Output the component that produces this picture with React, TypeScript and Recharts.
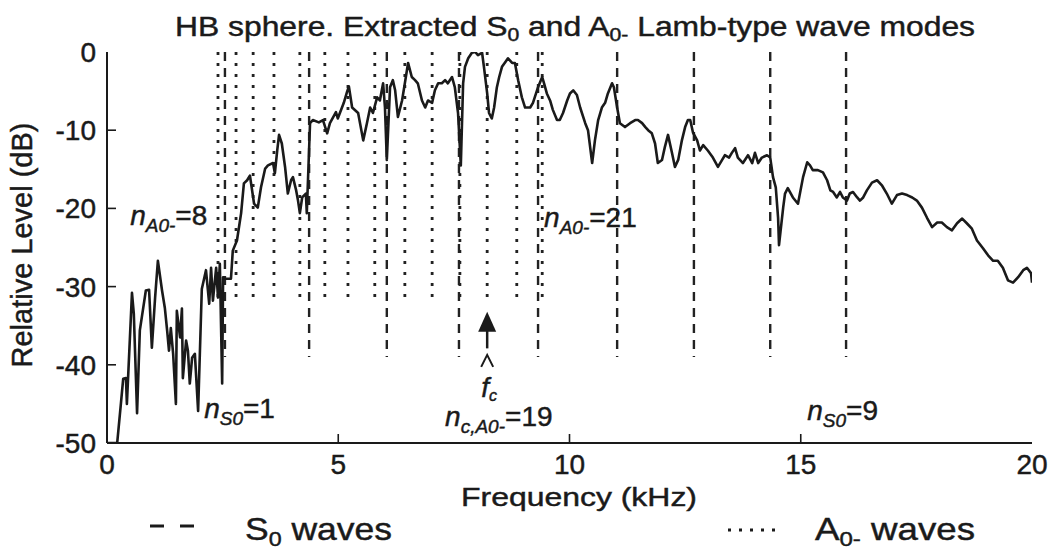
import React from 'react';
import { ComposedChart, Line, XAxis, YAxis, ReferenceLine, ReferenceDot } from 'recharts';

const FONT = "'Liberation Sans', Arial, Helvetica, sans-serif";
const INK = '#1a1a1a';

// Measured spectrum: [frequency kHz, relative level dB]
const spectrum: [number, number][] = [
  [0.0, -50], [0.22, -50], [0.3, -45.0], [0.35, -41.8], [0.41, -41.7], [0.43, -45.0], [0.54, -30.8], [0.58, -33.5],
  [0.65, -46.2], [0.71, -35.6], [0.84, -30.5], [0.91, -30.4], [0.97, -37.8], [1.04, -31.4], [1.1, -26.7], [1.19, -30.5],
  [1.25, -32.7], [1.3, -35.6], [1.34, -38.2], [1.38, -35.3], [1.43, -38.6], [1.49, -45.0], [1.51, -33.1], [1.58, -36.5],
  [1.62, -32.8], [1.64, -41.7], [1.71, -36.9], [1.75, -38.2], [1.79, -42.4], [1.84, -39.1], [1.9, -38.6], [1.97, -45.9],
  [2.05, -30.3], [2.14, -27.9], [2.21, -32.2], [2.25, -27.6], [2.29, -31.8], [2.36, -27.6], [2.4, -31.4], [2.44, -27.1],
  [2.49, -42.4], [2.51, -28.8], [2.57, -29.0], [2.68, -29.0], [2.72, -25.4], [2.81, -24.1], [2.9, -20.6], [2.96, -16.8],
  [3.03, -16.4], [3.09, -15.8], [3.18, -19.4], [3.26, -19.9], [3.33, -17.3], [3.42, -14.9], [3.48, -14.5], [3.59, -14.2],
  [3.63, -15.5], [3.68, -12.6], [3.72, -10.6], [3.78, -11.7], [3.85, -14.7], [3.91, -18.1], [3.98, -16.4], [4.02, -16.0],
  [4.09, -17.7], [4.13, -19.0], [4.17, -20.6], [4.22, -18.6], [4.3, -18.1], [4.32, -20.6], [4.39, -9.1], [4.45, -8.7],
  [4.58, -9.0], [4.67, -8.7], [4.76, -10.4], [4.82, -9.1], [4.95, -7.7], [4.99, -8.5], [5.12, -6.5], [5.19, -5.1],
  [5.23, -4.4], [5.3, -7.1], [5.43, -7.8], [5.54, -11.3], [5.62, -9.1], [5.69, -7.1], [5.75, -7.8], [5.84, -5.8],
  [5.9, -6.2], [5.97, -4.0], [6.01, -7.1], [6.05, -13.8], [6.12, -4.5], [6.18, -3.6], [6.23, -4.9], [6.29, -8.3],
  [6.38, -6.2], [6.44, -4.0], [6.51, -1.4], [6.59, -3.2], [6.66, -3.6], [6.72, -4.0], [6.81, -6.2], [6.88, -7.1],
  [6.94, -6.2], [7.03, -6.5], [7.09, -4.9], [7.16, -4.0], [7.24, -4.0], [7.31, -3.6], [7.37, -4.0], [7.46, -3.2],
  [7.52, -4.5], [7.59, -7.8], [7.65, -14.5], [7.7, -4.0], [7.74, -1.9], [7.81, -0.8], [7.89, -0.1], [7.96, 0],
  [8.02, -0.4], [8.11, -0.1], [8.15, -1.9], [8.22, -5.3], [8.26, -7.8], [8.32, -8.5], [8.37, -7.1], [8.43, -4.5],
  [8.48, -3.2], [8.54, -1.9], [8.61, -1.3], [8.67, -0.8], [8.76, -1.4], [8.82, -1.4], [8.89, -3.6], [8.97, -5.8],
  [9.04, -7.1], [9.15, -7.1], [9.21, -6.5], [9.32, -4.5], [9.41, -3.2], [9.45, -4.0], [9.51, -5.3], [9.58, -6.2],
  [9.64, -7.4], [9.73, -8.7], [9.79, -8.7], [9.86, -7.8], [9.95, -6.2], [10.01, -5.3], [10.08, -4.9], [10.16, -5.5],
  [10.23, -7.1], [10.34, -9.1], [10.4, -10.0], [10.49, -14.2], [10.55, -11.3], [10.62, -8.7], [10.7, -7.1], [10.77, -6.5],
  [10.83, -5.3], [10.92, -4.0], [10.96, -4.5], [11.03, -7.1], [11.09, -9.1], [11.2, -9.6], [11.31, -9.1], [11.42, -8.7],
  [11.48, -8.7], [11.57, -9.1], [11.64, -9.6], [11.7, -10.0], [11.78, -10.4], [11.85, -11.7], [11.91, -14.2], [12.0, -13.8],
  [12.06, -12.2], [12.13, -10.6], [12.22, -13.0], [12.28, -14.7], [12.35, -13.8], [12.43, -11.3], [12.5, -9.6], [12.56, -8.7],
  [12.61, -8.7], [12.67, -10.3], [12.76, -11.3], [12.82, -12.6], [12.89, -11.9], [12.99, -12.6], [13.1, -13.5], [13.21, -14.7],
  [13.3, -13.8], [13.36, -13.2], [13.45, -13.5], [13.51, -12.9], [13.58, -12.3], [13.64, -13.5], [13.75, -14.2], [13.86, -13.2],
  [13.95, -14.2], [14.01, -12.9], [14.08, -14.2], [14.16, -13.5], [14.27, -13.2], [14.34, -13.5], [14.4, -16.0], [14.46, -17.3],
  [14.51, -21.2], [14.53, -24.7], [14.62, -19.9], [14.66, -18.1], [14.72, -17.4], [14.83, -18.6], [14.94, -19.4], [15.05, -16.0],
  [15.14, -14.1], [15.2, -14.5], [15.26, -15.1], [15.37, -15.1], [15.48, -15.4], [15.57, -16.4], [15.64, -17.7], [15.7, -17.9],
  [15.78, -18.6], [15.85, -17.9], [15.91, -18.6], [16.0, -19.0], [16.06, -18.1], [16.13, -17.9], [16.22, -18.6], [16.28, -19.0],
  [16.35, -18.6], [16.43, -17.7], [16.54, -16.7], [16.65, -16.4], [16.76, -17.1], [16.86, -18.1], [16.97, -19.4], [17.08, -18.3],
  [17.19, -18.1], [17.3, -18.3], [17.41, -18.6], [17.51, -19.0], [17.62, -19.9], [17.73, -21.2], [17.84, -22.4], [17.95, -21.8],
  [18.05, -21.8], [18.16, -22.4], [18.27, -22.8], [18.38, -21.9], [18.49, -21.3], [18.59, -21.9], [18.7, -22.6], [18.81, -24.1],
  [18.94, -25.1], [19.05, -26.0], [19.16, -26.7], [19.26, -26.7], [19.37, -27.6], [19.48, -29.2], [19.59, -29.5], [19.7, -28.8],
  [19.81, -27.9], [19.89, -27.6], [19.98, -28.3], [20.0, -29.5],
];

const s0ModesKHz = [2.55, 4.37, 6.05, 7.61, 9.32, 11.03, 12.69, 14.34, 15.98];
const a0ModesKHz = [2.4, 2.79, 3.16, 3.61, 4.17, 4.71, 5.21, 5.79, 6.44, 7.03, 7.63, 8.22, 8.86, 9.41];
const s0LineLowDB = -39;
const a0LineLowDB = -32;
const fcKHz = 8.22;

const xTicks = [0, 5, 10, 15, 20];
const yTicks = [-50, -40, -30, -20, -10, 0];

const modeLabels = [
  { f: 0.5, db: -22.1, sub: 'A0-', value: '8' },
  { f: 9.45, db: -22.4, sub: 'A0-', value: '21' },
  { f: 2.1, db: -46.8, sub: 'S0', value: '1' },
  { f: 7.31, db: -47.8, sub: 'c,A0-', value: '19' },
  { f: 15.14, db: -47.1, sub: 'S0', value: '9' },
];

const data = spectrum.map(([f, db]) => ({ f, db }));

const TICK_LEN = 9;
const LABEL_GAP = 11;
const xFirst = xTicks[0];
const xLast = xTicks[xTicks.length - 1];
const yFirst = yTicks[0];
const yLast = yTicks[yTicks.length - 1];
const TEXT_STROKE = { stroke: INK, strokeWidth: 0.45 };

const BottomTick = (p: any) => {
  const v = p.payload.value;
  const axisY = p.y - LABEL_GAP;
  return (
    <g>
      {v !== xFirst && v !== xLast && (
        <line x1={p.x} x2={p.x} y1={axisY} y2={axisY - TICK_LEN} stroke={INK} strokeWidth={1.6} />
      )}
      <text x={p.x} y={p.y} dy="0.72em" textAnchor="middle" fontSize={28} fontFamily={FONT} fill={INK} {...TEXT_STROKE}>
        {v}
      </text>
    </g>
  );
};

const TopTick = (p: any) => {
  const v = p.payload.value;
  if (v === xFirst || v === xLast) return <g />;
  return <line x1={p.x} x2={p.x} y1={p.y} y2={p.y + TICK_LEN} stroke={INK} strokeWidth={1.6} />;
};

const LeftTick = (p: any) => {
  const v = p.payload.value;
  const axisX = p.x + LABEL_GAP;
  return (
    <g>
      {v !== yFirst && v !== yLast && (
        <line x1={axisX} x2={axisX + TICK_LEN} y1={p.y} y2={p.y} stroke={INK} strokeWidth={1.6} />
      )}
      <text x={p.x} y={p.y} dy="0.36em" textAnchor="end" fontSize={28} fontFamily={FONT} fill={INK} {...TEXT_STROKE}>
        {v}
      </text>
    </g>
  );
};

const RightTick = (p: any) => {
  const v = p.payload.value;
  if (v === yFirst || v === yLast) return <g />;
  return <line x1={p.x} x2={p.x - TICK_LEN} y1={p.y} y2={p.y} stroke={INK} strokeWidth={1.6} />;
};

const ModeLabel = ({ cx, cy, sub, value }: any) => (
  <text x={cx} y={cy} fontFamily={FONT} fontSize={28} fill={INK} {...TEXT_STROKE}>
    <tspan fontStyle="italic">n</tspan>
    <tspan fontStyle="italic" fontSize={19} dy={7}>{sub}</tspan>
    <tspan dy={-7}>={value}</tspan>
  </text>
);

const Triangle = ({ cx, cy }: any) => (
  <polygon points={`${cx},${cy - 10} ${cx - 9},${cy + 10} ${cx + 9},${cy + 10}`} fill={INK} />
);

const FcLabel = ({ cx, cy }: any) => (
  <g>
    <polyline
      points={`${cx - 6},${cy - 30} ${cx},${cy - 42} ${cx + 6},${cy - 30}`}
      fill="none"
      stroke={INK}
      strokeWidth={2}
    />
    <text x={cx - 6} y={cy} fontFamily={FONT} fill={INK} fontSize={28} fontStyle="italic" {...TEXT_STROKE}>
      f<tspan fontSize={16} dy={4}>c</tspan>
    </text>
  </g>
);

export default function App() {
  return (
    <div style={{ position: 'absolute', left: 0, top: 0, width: 1057, height: 551, background: '#fff' }}>
      <ComposedChart width={1057} height={551} data={data} margin={{ top: 52, right: 25, bottom: 78, left: 0 }}>
        <XAxis
          dataKey="f"
          type="number"
          domain={[xFirst, xLast]}
          ticks={xTicks}
          interval={0}
          allowDataOverflow
          height={30}
          tickSize={0}
          tickMargin={LABEL_GAP}
          tickLine={false}
          axisLine={{ stroke: INK, strokeWidth: 2 }}
          tick={(p: any) => <BottomTick {...p} />}
        />
        <XAxis
          xAxisId="top"
          orientation="top"
          dataKey="f"
          type="number"
          domain={[xFirst, xLast]}
          ticks={xTicks}
          interval={0}
          allowDataOverflow
          height={0}
          tickSize={0}
          tickMargin={0}
          tickLine={false}
          axisLine={{ stroke: INK, strokeWidth: 2 }}
          tick={(p: any) => <TopTick {...p} />}
        />
        <YAxis
          type="number"
          domain={[yFirst, yLast]}
          ticks={yTicks}
          interval={0}
          allowDataOverflow
          width={107}
          tickSize={0}
          tickMargin={LABEL_GAP}
          tickLine={false}
          axisLine={{ stroke: INK, strokeWidth: 2 }}
          tick={(p: any) => <LeftTick {...p} />}
        />
        <YAxis
          yAxisId="right"
          orientation="right"
          type="number"
          domain={[yFirst, yLast]}
          ticks={yTicks}
          interval={0}
          allowDataOverflow
          width={0}
          tickSize={0}
          tickMargin={0}
          tickLine={false}
          axisLine={{ stroke: INK, strokeWidth: 2 }}
          tick={(p: any) => <RightTick {...p} />}
        />
        {a0ModesKHz.map((f) => (
          <ReferenceLine
            key={`a0-${f}`}
            segment={[{ x: f, y: yLast }, { x: f, y: a0LineLowDB }]}
            stroke="#222"
            strokeWidth={2.8}
            strokeDasharray="3 8"
          />
        ))}
        {s0ModesKHz.map((f) => (
          <ReferenceLine
            key={`s0-${f}`}
            segment={[{ x: f, y: yLast }, { x: f, y: s0LineLowDB }]}
            stroke="#222"
            strokeWidth={2.4}
            strokeDasharray="9 7"
          />
        ))}
        <ReferenceLine segment={[{ x: fcKHz, y: -35.6 }, { x: fcKHz, y: -37.9 }]} stroke={INK} strokeWidth={2.5} />
        <ReferenceDot x={fcKHz} y={-34.5} r={0} shape={(p: any) => <Triangle {...p} />} />
        <ReferenceDot x={fcKHz} y={-44.1} r={0} shape={(p: any) => <FcLabel {...p} />} />
        {modeLabels.map((m) => (
          <ReferenceDot
            key={`lbl-${m.value}`}
            x={m.f}
            y={m.db}
            r={0}
            shape={(p: any) => <ModeLabel {...p} sub={m.sub} value={m.value} />}
          />
        ))}
        <Line
          dataKey="db"
          type="linear"
          stroke={INK}
          strokeWidth={2.6}
          strokeLinejoin="round"
          dot={false}
          isAnimationActive={false}
        />
      </ComposedChart>
      <svg
        width={1057}
        height={551}
        style={{ position: 'absolute', left: 0, top: 0, pointerEvents: 'none' }}
        fontFamily={FONT}
        fill={INK}
      >
        <text x={175} y={36} fontSize={27} textLength={800} lengthAdjust="spacingAndGlyphs" {...TEXT_STROKE}>
          HB sphere. Extracted S<tspan fontSize={18} dy={5}>0</tspan>
          <tspan dy={-5}> and A</tspan>
          <tspan fontSize={18} dy={5}>0-</tspan>
          <tspan dy={-5}> Lamb-type wave modes</tspan>
        </text>
        <text x={22} y={245} fontSize={29} textAnchor="middle" transform="rotate(-90 22 245)" dy="0.35em" {...TEXT_STROKE}>
          Relative Level (dB)
        </text>
        <text x={461} y={506} fontSize={26} textLength={236} lengthAdjust="spacingAndGlyphs" {...TEXT_STROKE}>
          Frequency (kHz)
        </text>
        <line x1={150} x2={164} y1={526} y2={526} stroke={INK} strokeWidth={3} />
        <line x1={180} x2={194} y1={526} y2={526} stroke={INK} strokeWidth={3} />
        <text x={245} y={540} fontSize={32} textLength={147} lengthAdjust="spacingAndGlyphs" {...TEXT_STROKE}>
          S<tspan fontSize={21} dy={6}>0</tspan>
          <tspan dy={-6}> waves</tspan>
        </text>
        <line x1={728} x2={778} y1={530} y2={530} stroke={INK} strokeWidth={3} strokeDasharray="3 8" />
        <text x={815} y={540} fontSize={32} textLength={160} lengthAdjust="spacingAndGlyphs" {...TEXT_STROKE}>
          A<tspan fontSize={21} dy={6}>0-</tspan>
          <tspan dy={-6}> waves</tspan>
        </text>
      </svg>
    </div>
  );
}
